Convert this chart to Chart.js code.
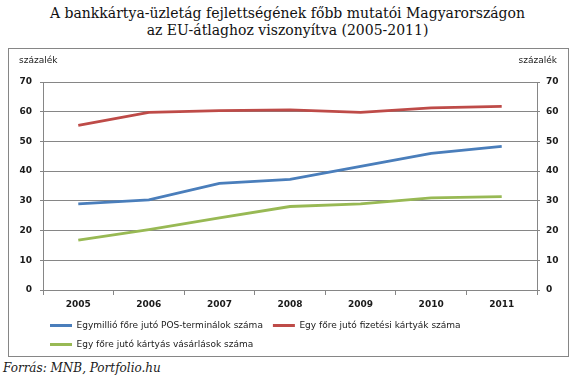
<!DOCTYPE html>
<html>
<head>
<meta charset="utf-8">
<script src="https://cdn.jsdelivr.net/npm/chart.js@4/dist/chart.umd.min.js"></script>
<style>
  html,body{margin:0;padding:0;background:#fff;}
  body{width:575px;height:382px;position:relative;overflow:hidden;}
  #title{position:absolute;left:0;top:5px;width:575px;text-align:center;font-family:"DejaVu Serif",serif;font-size:14px;line-height:17px;color:#111;}
  #box{position:absolute;left:8px;top:48px;width:559px;height:307px;border:1px solid #868686;}
  #wrap{position:absolute;left:0;top:0;width:559px;height:307px;}
  #src{position:absolute;left:3px;top:361px;font-family:"DejaVu Serif",serif;font-style:italic;font-size:12px;color:#1a1a1a;}
</style>
</head>
<body>
<div id="title">A bankkártya-üzletág fejlettségének főbb mutatói Magyarországon<br>az EU-átlaghoz viszonyítva (2005-2011)</div>
<div id="box"><div id="wrap"><canvas id="c" width="559" height="307"></canvas></div></div>
<div id="src">Forrás: MNB, Portfolio.hu</div>
<script>
const years = ["2005","2006","2007","2008","2009","2010","2011"];
const posTerminals = [29.0, 30.3, 35.9, 37.2, 41.6, 46.0, 48.3];
const paymentCards = [55.4, 59.8, 60.4, 60.6, 59.8, 61.3, 61.8];
const cardPurchases = [16.8, 20.3, 24.3, 28.1, 29.0, 31.0, 31.4];
const seriesNames = [
  "Egymillió főre jutó POS-terminálok száma",
  "Egy főre jutó fizetési kártyák száma",
  "Egy főre jutó kártyás vásárlások száma"
];
const axisUnit = "százalék";
const yMin = 0, yMax = 70, yStep = 10;

const GRID = "#868686";
const TXT = "#1a1a1a";

const extras = {
  id: 'extras',
  afterLayout(chart) {
    const lg = chart.legend;
    lg.left += 22; lg.right += 22;
    lg.top += 3; lg.bottom += 3;
  },
  afterDraw(chart) {
    const ctx = chart.ctx;
    ctx.save();
    ctx.font = "9px 'DejaVu Sans'";
    ctx.fillStyle = TXT;
    ctx.textBaseline = "middle";
    ctx.textAlign = "left";
    ctx.fillText(axisUnit, 10, 12);
    ctx.textAlign = "right";
    ctx.fillText(axisUnit, 548, 12);
    ctx.restore();
  }
};

new Chart(document.getElementById('c'), {
  type: 'line',
  data: {
    labels: years,
    datasets: [
      {label: seriesNames[0], data: posTerminals, borderColor: "#4A7EBB", backgroundColor: "#4A7EBB", borderWidth: 2.8, pointRadius: 0, tension: 0, yAxisID: 'y'},
      {label: seriesNames[1], data: paymentCards, borderColor: "#BE4B48", backgroundColor: "#BE4B48", borderWidth: 2.8, pointRadius: 0, tension: 0, yAxisID: 'y'},
      {label: seriesNames[2], data: cardPurchases, borderColor: "#98B954", backgroundColor: "#98B954", borderWidth: 2.8, pointRadius: 0, tension: 0, yAxisID: 'y'}
    ]
  },
  options: {
    responsive: false,
    animation: false,
    layout: {padding: {left: 9, right: 0, top: 33, bottom: 0}},
    plugins: {
      tooltip: {enabled: false},
      title: {display: false},
      legend: {
        position: 'bottom',
        align: 'start',
        labels: {
          boxWidth: 22,
          boxHeight: 3,
          padding: 10,
          color: TXT,
          font: {family: "'DejaVu Sans'", size: 9},
          generateLabels(chart) {
            const items = Chart.defaults.plugins.legend.labels.generateLabels(chart);
            items.forEach(it => { it.lineWidth = 0; });
            return items;
          }
        }
      }
    },
    scales: {
      x: {
        type: 'category',
        offset: true,
        afterFit(s) { s.height = 18; },
        grid: {offset: true, drawOnChartArea: false, color: GRID, tickLength: 5},
        border: {color: GRID},
        ticks: {color: TXT, padding: 4, maxRotation: 0, font: {family: "'DejaVu Sans'", size: 9, weight: 'bold'}}
      },
      y: {
        position: 'left',
        min: yMin, max: yMax,
        afterFit(s) { s.width = 25; },
        grid: {color: GRID, tickLength: 3},
        border: {color: GRID},
        ticks: {stepSize: yStep, color: TXT, padding: 8, font: {family: "'DejaVu Sans'", size: 9, weight: 'bold'}}
      },
      y2: {
        position: 'right',
        min: yMin, max: yMax,
        afterFit(s) { s.width = 31; },
        grid: {drawOnChartArea: false, color: GRID, tickLength: 3},
        border: {color: GRID},
        ticks: {stepSize: yStep, color: TXT, padding: 6, font: {family: "'DejaVu Sans'", size: 9, weight: 'bold'}}
      }
    }
  },
  plugins: [extras]
});
</script>
</body>
</html>
